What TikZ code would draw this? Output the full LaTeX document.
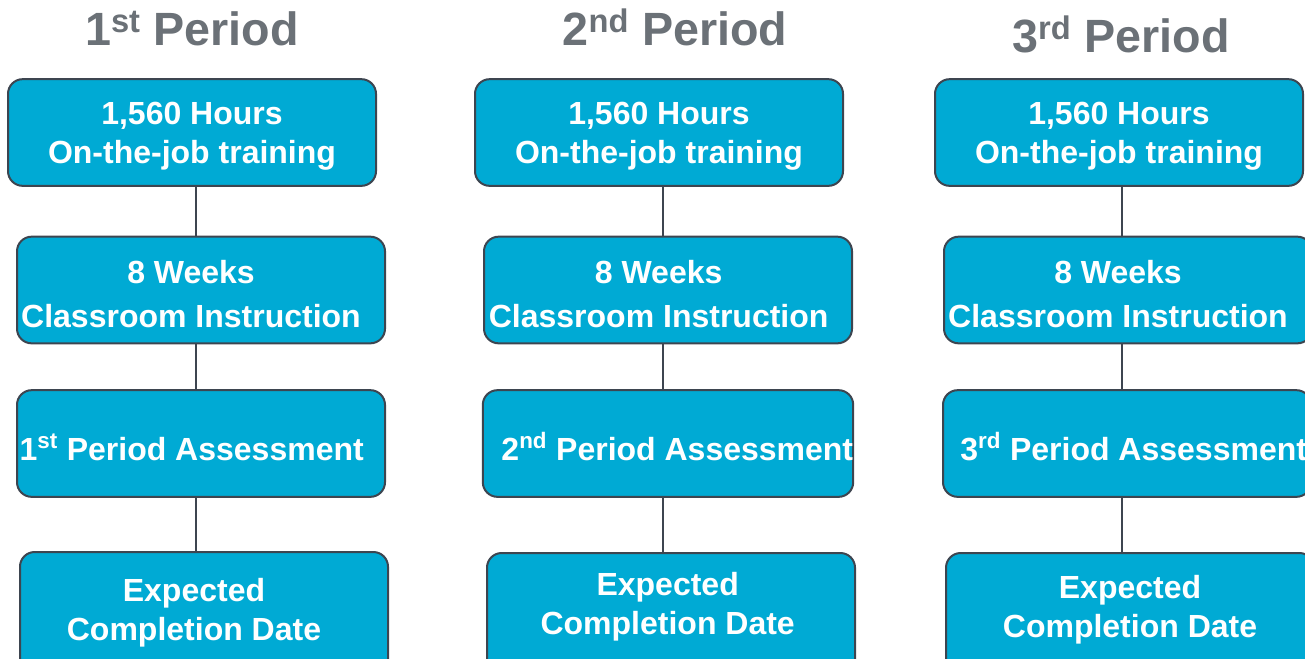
\documentclass[tikz,border=0pt]{standalone}
\usepackage{fontspec}
\setmainfont{Liberation Sans}
\usetikzlibrary{calc}
\definecolor{boxblue}{HTML}{00AAD4}
\definecolor{boxedge}{HTML}{3D4550}
\definecolor{headgray}{HTML}{6B7177}
\tikzset{
  stage/.style={draw=boxedge, line width=1.5pt, fill=boxblue, rounded corners=11pt,
    minimum width=276pt, minimum height=80pt, inner sep=0pt, align=center,
    text depth=0pt, text=white, font=\bfseries\fontsize{24}{29}\selectfont},
  mid/.style={stage, text height=#1},
  last/.style={stage, anchor=north, minimum height=112.5pt, text depth=#1},
  head/.style={anchor=base, text=headgray, font=\bfseries\fontsize{35}{40}\selectfont},
  link/.style={draw=boxedge, line width=1.2pt}
}
\newcommand{\nudge}[1]{\hspace*{#1}}
\begin{document}
\begin{tikzpicture}[x=0.75pt, y=-0.75pt]
\useasboundingbox (0,0) rectangle (1305,658);
% period titles
\node[head] (h1) at (192,45) {1\textsuperscript{st} Period};
\node[head] (h2) at (675,45) {2\textsuperscript{nd} Period};
\node[head] (h3) at (1121,52) {3\textsuperscript{rd} Period};
% first period
\node[stage] (a1) at (192,132.5) {1,560 Hours\\On-the-job training};
\node[mid=56pt] (b1) at (201,290) {8 Weeks\nudge{15pt}\\[4pt]Classroom Instruction\nudge{15pt}};
\node[mid=25pt] (c1) at (201,443.5) {1\textsuperscript{st} Period Assessment\nudge{14pt}};
\node[last=26pt] (d1) at (204,551) {Expected\nudge{15pt}\\Completion Date\nudge{15pt}};
% second period
\node[stage] (a2) at (659,132.5) {1,560 Hours\\On-the-job training};
\node[mid=56pt] (b2) at (668,290) {8 Weeks\nudge{14pt}\\[4pt]Classroom Instruction\nudge{14pt}};
\node[mid=25pt] (c2) at (668,443.5) {\nudge{14pt}2\textsuperscript{nd} Period Assessment};
\node[last=36.5pt] (d2) at (671,552) {Expected\nudge{5pt}\\Completion Date\nudge{5pt}};
% third period
\node[stage] (a3) at (1119,132.5) {1,560 Hours\\On-the-job training};
\node[mid=56pt] (b3) at (1128,290) {8 Weeks\nudge{15pt}\\[4pt]Classroom Instruction\nudge{15pt}};
\node[mid=25pt] (c3) at (1127,443.5) {\nudge{10pt}3\textsuperscript{rd} Period Assessment};
\node[last=32.75pt] (d3) at (1130,552) {Expected\\Completion Date};
% spines
\coordinate (s1) at (196,0);
\coordinate (s2) at (663,0);
\coordinate (s3) at (1122,0);
\foreach \c in {1,2,3}{
  \draw[link] (s\c |- a\c.south) -- (s\c |- b\c.north);
  \draw[link] (s\c |- b\c.south) -- (s\c |- c\c.north);
  \draw[link] (s\c |- c\c.south) -- (s\c |- d\c.north);
}
\end{tikzpicture}
\end{document}
